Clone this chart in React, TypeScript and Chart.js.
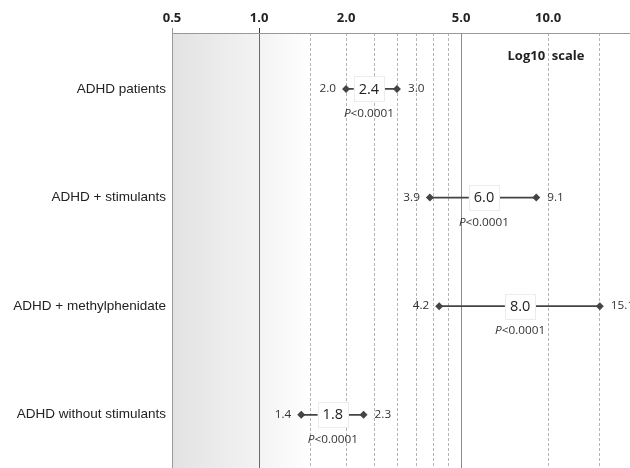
import React, { useEffect, useRef } from "react";
import { Chart, registerables } from "chart.js";

Chart.register(...registerables);

const categories = [
  "ADHD patients",
  "ADHD + stimulants",
  "ADHD + methylphenidate",
  "ADHD without stimulants",
];
const estimates = [2.4, 6.0, 8.0, 1.8];
const lower = [2.0, 3.9, 4.2, 1.4];
const upper = [3.0, 9.1, 15.1, 2.3];
const pValues = ["<0.0001", "<0.0001", "<0.0001", "<0.0001"];
const xTickLabels = [0.5, 1, 2, 5, 10];
const dashedGrid = [1.5, 2, 2.5, 3, 3.5, 4, 4.5, 10, 15];
const solidRefs = [1, 5];
const allXTicks = [0.5, 1, 1.5, 2, 2.5, 3, 3.5, 4, 4.5, 5, 10, 15];

const SMALL = "10.5px 'Open Sans'";
const SX = 1.12;

function drawStretched(ctx: CanvasRenderingContext2D, text: string, x: number, y: number, align: CanvasTextAlign, sx: number) {
  ctx.save();
  ctx.translate(x, y);
  ctx.scale(sx, 1);
  ctx.textAlign = align;
  ctx.fillText(text, 0, 0);
  ctx.restore();
}

const forestPlugin = {
  id: "forest",
  beforeDraw(chart: any) {
    const { ctx, chartArea: a, scales } = chart;
    const x = scales.x;
    ctx.save();
    const x05 = x.getPixelForValue(0.5);
    const x1 = x.getPixelForValue(1);
    const x15 = x.getPixelForValue(1.5);
    const g = ctx.createLinearGradient(x05, 0, x15, 0);
    g.addColorStop(0, "#e2e2e2");
    g.addColorStop((x1 - x05) / (x15 - x05), "#f3f3f3");
    g.addColorStop(1, "#ffffff");
    ctx.fillStyle = g;
    ctx.fillRect(x05, a.top, x15 - x05, a.bottom - a.top);

    ctx.lineWidth = 1;
    ctx.strokeStyle = "#b4b4b4";
    ctx.setLineDash([3, 2]);
    dashedGrid.forEach((v) => {
      const px = Math.round(x.getPixelForValue(v)) + 0.5;
      ctx.beginPath();
      ctx.moveTo(px, a.top);
      ctx.lineTo(px, a.bottom);
      ctx.stroke();
    });
    ctx.setLineDash([]);
    solidRefs.forEach((v) => {
      const px = Math.round(x.getPixelForValue(v)) + 0.5;
      ctx.strokeStyle = v === 1 ? "#6a6a6a" : "#8c8c8c";
      ctx.beginPath();
      ctx.moveTo(px, a.top);
      ctx.lineTo(px, a.bottom);
      ctx.stroke();
    });
    ctx.restore();
  },
  afterDraw(chart: any) {
    const { ctx, chartArea: a, scales } = chart;
    const x = scales.x;
    const y = scales.y;
    ctx.save();
    [0.5, 1].forEach((v) => {
      const px = Math.round(x.getPixelForValue(v)) + 0.5;
      ctx.strokeStyle = v === 1 ? "#333" : "#999";
      ctx.lineWidth = 1;
      ctx.beginPath();
      ctx.moveTo(px, a.top - 5);
      ctx.lineTo(px, a.top);
      ctx.stroke();
    });

    ctx.textBaseline = "middle";
    categories.forEach((_, i) => {
      const cy = y.getPixelForValue(i);
      const ex = x.getPixelForValue(estimates[i]);
      ctx.font = "14.5px 'Open Sans'";
      const label = estimates[i].toFixed(1);
      const tw = ctx.measureText(label).width;
      const bw = tw + 10;
      const bh = 25;
      ctx.fillStyle = "#ffffff";
      ctx.fillRect(ex - bw / 2, cy - bh / 2, bw, bh);
      ctx.strokeStyle = "#ececec";
      ctx.lineWidth = 1;
      ctx.strokeRect(Math.round(ex - bw / 2) + 0.5, Math.round(cy - bh / 2) + 0.5, Math.round(bw), bh);
      ctx.fillStyle = "#222";
      ctx.textAlign = "center";
      ctx.fillText(label, ex, cy + 0.5);

      ctx.font = SMALL;
      ctx.fillStyle = "#333";
      const lx = x.getPixelForValue(lower[i]);
      const hx = x.getPixelForValue(upper[i]);
      drawStretched(ctx, lower[i].toFixed(1), lx - 10, cy, "right", SX);
      drawStretched(ctx, upper[i].toFixed(1), hx + 11, cy, "left", SX);

      const py = cy + 25;
      ctx.font = "italic " + SMALL;
      const wP = ctx.measureText("P").width * SX;
      ctx.font = SMALL;
      const wR = ctx.measureText(pValues[i]).width * SX;
      const start = ex - (wP + wR) / 2;
      ctx.font = "italic " + SMALL;
      drawStretched(ctx, "P", start, py, "left", SX);
      ctx.font = SMALL;
      drawStretched(ctx, pValues[i], start + wP, py, "left", SX);
    });

    ctx.font = "bold 13px 'Open Sans'";
    ctx.fillStyle = "#222";
    ctx.textAlign = "center";
    ctx.fillText("Log10  scale", 546, 56);
    ctx.restore();
  },
};

export default function App() {
  const ref = useRef<HTMLCanvasElement | null>(null);
  useEffect(() => {
    document.body.style.margin = "0";
    const canvas = ref.current;
    if (!canvas) return;
    const datasets = categories.map((c, i) => ({
      label: c,
      data: [
        { x: lower[i], y: i },
        { x: upper[i], y: i },
      ],
      showLine: true,
      borderColor: "#444",
      borderWidth: 1.8,
      pointStyle: "rectRot" as const,
      pointRadius: 4,
      pointBackgroundColor: "#444",
      pointBorderColor: "#444",
      pointBorderWidth: 0,
    }));
    const chart = new Chart(canvas, {
      type: "scatter",
      data: { datasets },
      options: {
        animation: false,
        responsive: false,
        maintainAspectRatio: false,
        devicePixelRatio: 1,
        layout: { padding: 0, autoPadding: false },
        plugins: { legend: { display: false }, tooltip: { enabled: false } },
        scales: {
          x: {
            type: "logarithmic",
            position: "top",
            min: 0.5,
            max: 19.2,
            afterBuildTicks: (s: any) => {
              s.ticks = allXTicks.map((v) => ({ value: v }));
            },
            afterFit: (s: any) => {
              s.height = 33;
              s.paddingLeft = 0;
              s.paddingRight = 0;
            },
            grid: { display: false, drawTicks: false },
            border: { display: true, color: "#999", width: 1 },
            ticks: {
              autoSkip: false,
              maxRotation: 0,
              padding: 7,
              color: "#222",
              font: { family: "'Open Sans'", size: 13, weight: "bold" },
              callback: (v: any) => (xTickLabels.includes(Number(v)) ? Number(v).toFixed(1) : ""),
            },
          },
          y: {
            type: "linear",
            reverse: true,
            min: -0.515,
            max: 3.49,
            afterBuildTicks: (s: any) => {
              s.ticks = categories.map((_, i) => ({ value: i }));
            },
            afterFit: (s: any) => {
              s.width = 172;
              s.paddingTop = 0;
              s.paddingBottom = 0;
            },
            grid: { display: false, drawTicks: false },
            border: { display: true, color: "#999", width: 1 },
            ticks: {
              padding: 6,
              color: "#222",
              font: { family: "'Liberation Sans'", size: 13.5 },
              callback: (v: any) => categories[Number(v)] ?? "",
            },
          },
        },
      },
      plugins: [forestPlugin],
    });
    return () => chart.destroy();
  }, []);
  return (
    <div style={{ width: 630, height: 468 }}>
      <canvas ref={ref} width={630} height={468} />
    </div>
  );
}
